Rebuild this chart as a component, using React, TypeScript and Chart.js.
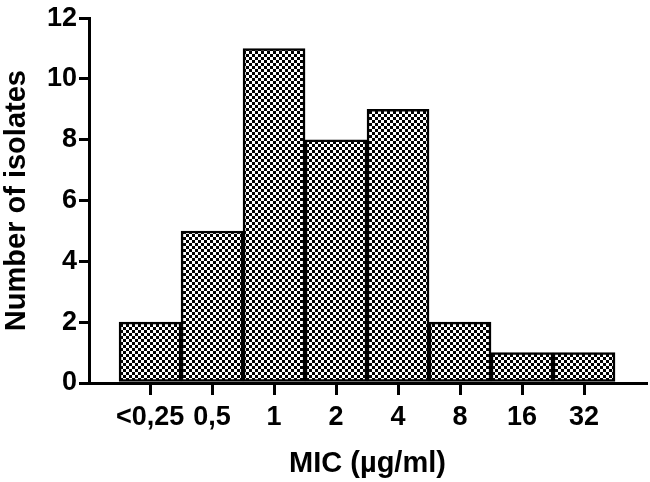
import React, { useEffect, useRef } from "react";
import { Chart, registerables } from "chart.js";

Chart.register(...registerables);

const categories = ["<0,25", "0,5", "1", "2", "4", "8", "16", "32"];
const isolates = [2, 5, 11, 8, 9, 2, 1, 1];
const yTicks = [0, 2, 4, 6, 8, 10, 12];
const xTitle = "MIC (µg/ml)";
const yTitle = "Number of isolates";

const FONT = "'Liberation Sans', Arial, Helvetica, sans-serif";

function makePattern(): CanvasPattern | string {
  const c = document.createElement("canvas");
  c.width = 6;
  c.height = 6;
  const g = c.getContext("2d");
  if (!g) return "#888";
  g.fillStyle = "#ffffff";
  g.fillRect(0, 0, 6, 6);
  g.fillStyle = "#000000";
  g.fillRect(0, 0, 3, 3);
  g.fillRect(3, 3, 3, 3);
  const p = g.createPattern(c, "repeat");
  return p || "#888";
}

export default function App() {
  const ref = useRef<HTMLCanvasElement | null>(null);

  useEffect(() => {
    document.body.style.margin = "0";
    const canvas = ref.current;
    if (!canvas) return;
    const pattern = makePattern();
    const chart = new Chart(canvas, {
      type: "bar",
      data: {
        datasets: [
          {
            data: isolates.map((v, i) => ({ x: i, y: v })),
            backgroundColor: pattern as any,
            borderColor: "#000000",
            borderWidth: 2.5,
            borderSkipped: false,
            barPercentage: 1,
            categoryPercentage: 1,
          },
        ],
      },
      options: {
        animation: false,
        responsive: false,
        maintainAspectRatio: false,
        layout: { padding: { top: 15, right: 4, bottom: 0, left: 0 } },
        plugins: { legend: { display: false }, tooltip: { enabled: false } },
        scales: {
          x: {
            type: "linear",
            offset: false,
            min: -0.985,
            max: 8.0,
            afterBuildTicks: (scale: any) => {
              scale.ticks = categories.map((_, i) => ({ value: i }));
            },
            afterFit: (scale: any) => {
              scale.height = 99;
            },
            ticks: {
              autoSkip: false,
              maxRotation: 0,
              minRotation: 0,
              padding: 6,
              color: "#000000",
              font: { family: FONT, size: 27, weight: "bold" },
              callback: (value: any) => categories[Math.round(Number(value))] ?? "",
            },
            grid: {
              offset: false,
              drawOnChartArea: false,
              drawTicks: true,
              tickLength: 12,
              lineWidth: 3,
              color: "#000000",
            },
            border: { display: true, width: 3, color: "#000000" },
            title: {
              display: true,
              text: xTitle,
              color: "#000000",
              font: { family: FONT, size: 29, weight: "bold" },
              padding: { top: 0, bottom: 1 },
            },
          },
          y: {
            type: "linear",
            min: 0,
            max: 12,
            afterBuildTicks: (scale: any) => {
              scale.ticks = yTicks.map((v) => ({ value: v }));
            },
            afterFit: (scale: any) => {
              scale.width = 89;
            },
            ticks: {
              padding: 2,
              color: "#000000",
              font: { family: FONT, size: 27, weight: "bold" },
            },
            grid: {
              drawOnChartArea: false,
              drawTicks: true,
              tickLength: 10,
              lineWidth: 3,
              color: "#000000",
            },
            border: { display: true, width: 3, color: "#000000" },
            title: {
              display: true,
              text: yTitle,
              color: "#000000",
              font: { family: FONT, size: 29, weight: "bold" },
              padding: { top: 0, bottom: 0 },
            },
          },
        },
      },
    });
    return () => chart.destroy();
  }, []);

  return (
    <div style={{ width: 650, height: 482, background: "#ffffff" }}>
      <canvas ref={ref} width={650} height={482} style={{ display: "block" }} />
    </div>
  );
}
